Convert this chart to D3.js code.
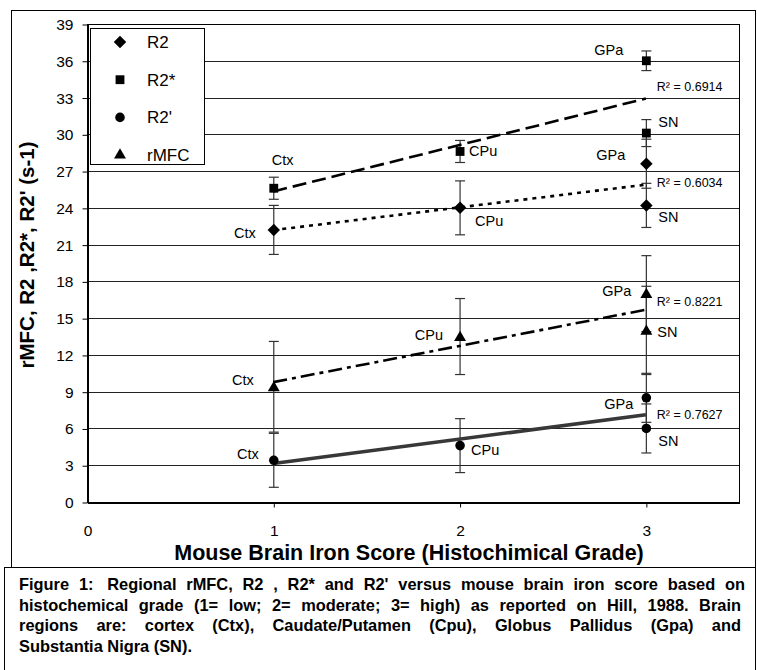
<!DOCTYPE html>
<html>
<head>
<meta charset="utf-8">
<script src="https://cdn.jsdelivr.net/npm/d3@7"></script>
<style>
  body { margin: 0; background: #fff; }
  svg { display: block; font-family: "Liberation Sans", Arial, sans-serif; }
</style>
</head>
<body>
<script>
// data
const regions = ["Ctx", "CPu", "GPa", "SN"];
const ironScore = [1, 2, 3, 3];

const r2 = [22.2, 24.0, 27.6, 24.2];
const r2Err = [2.0, 2.2, 2.0, 1.8];
const r2star = [25.6, 28.6, 36.0, 30.1];
const r2starErr = [0.9, 0.9, 0.8, 1.1];
const r2prime = [3.4, 4.6, 8.5, 6.0];
const r2primeErr = [2.2, 2.2, 2.0, 2.0];
const rmfc = [9.4, 13.5, 17.0, 14.0];
const rmfcErr = [3.7, 3.1, 3.1, 3.6];

const seriesNames = ["R2", "R2*", "R2'", "rMFC"];
const rSquared = ["0.6034", "0.6914", "0.7627", "0.8221"];

const yTicks = [0, 3, 6, 9, 12, 15, 18, 21, 24, 27, 30, 33, 36, 39];
const xTicks = [0, 1, 2, 3];

const captionLines = [
  "Figure 1:  Regional rMFC, R2 , R2* and R2' versus mouse brain iron score based on",
  "histochemical grade (1= low; 2= moderate; 3= high) as reported on Hill, 1988. Brain",
  "regions are: cortex (Ctx), Caudate/Putamen (Cpu), Globus Pallidus (Gpa) and",
  "Substantia Nigra (SN)."
];

const width = 757, height = 670;
const margin = { left: 87, right: 739, top: 24, bottom: 502 };

const svg = d3.select("body").append("svg")
  .attr("width", width)
  .attr("height", height);

// frames
svg.append("rect").attr("x", 11.5).attr("y", 10.5).attr("width", 744).attr("height", 557)
  .attr("fill", "none").attr("stroke", "#000");
svg.append("rect").attr("x", 4.5).attr("y", 567.5).attr("width", 751).attr("height", 110)
  .attr("fill", "#fff").attr("stroke", "#000");

const x = d3.scaleLinear().domain([0, 3.5]).range([margin.left, margin.right]);
const y = d3.scaleLinear().domain([0, 39]).range([margin.bottom, margin.top]);

// gridlines
svg.append("g")
  .selectAll("line")
  .data(yTicks.filter(t => t > 0 && t < 39))
  .enter()
  .append("line")
  .attr("x1", margin.left).attr("x2", margin.right)
  .attr("y1", d => Math.round(y(d)) + 0.5).attr("y2", d => Math.round(y(d)) + 0.5)
  .attr("stroke", "#222").attr("stroke-width", 1);

// plot border
svg.append("rect")
  .attr("x", margin.left + 0.5).attr("y", margin.top + 0.5)
  .attr("width", margin.right - margin.left).attr("height", margin.bottom - margin.top)
  .attr("fill", "none").attr("stroke", "#000");

// axes
const yAxis = svg.append("g")
  .attr("transform", "translate(" + (margin.left + 0.5) + ",0.5)")
  .call(d3.axisLeft(y).tickValues(yTicks).tickSize(5).tickPadding(9).tickSizeOuter(0));
const xAxis = svg.append("g")
  .attr("transform", "translate(0.5," + (margin.bottom + 0.5) + ")")
  .call(d3.axisBottom(x).tickValues(xTicks).tickFormat(d3.format("d"))
    .tickSize(5).tickPadding(17).tickSizeOuter(0));
[yAxis, xAxis].forEach(a => {
  a.select(".domain").attr("stroke", "#000").attr("stroke-width", 2);
  a.selectAll("text").attr("font-size", 15.5).attr("fill", "#000")
    .attr("font-family", "'Liberation Sans', Arial, sans-serif");
  a.selectAll(".tick line").attr("stroke", "#000");
});
xAxis.selectAll(".tick").filter(d => d === 0).select("line").remove();

// axis titles
svg.append("text")
  .attr("x", 409).attr("y", 560)
  .attr("text-anchor", "middle")
  .attr("font-size", 21.5).attr("font-weight", "bold")
  .text("Mouse Brain Iron Score (Histochimical Grade)");
svg.append("text")
  .attr("transform", "translate(34,255) rotate(-90)")
  .attr("text-anchor", "middle")
  .attr("font-size", 20.5).attr("font-weight", "bold")
  .text("rMFC, R2 ,R2*, R2' (s-1)");

// series definitions
const diamond = { draw: (ctx, size) => { const r = Math.sqrt(size / 2); ctx.moveTo(0, -r); ctx.lineTo(r, 0); ctx.lineTo(0, r); ctx.lineTo(-r, 0); ctx.closePath(); } };
const series = [
  { name: "R2", values: r2, err: r2Err, symbol: diamond, size: 78, dash: "4,5", stroke: "#000", width: 2.6, r2: rSquared[0] },
  { name: "R2*", values: r2star, err: r2starErr, symbol: d3.symbolSquare, size: 78, dash: "14,6", stroke: "#000", width: 2.6, r2: rSquared[1] },
  { name: "R2'", values: r2prime, err: r2primeErr, symbol: d3.symbolCircle, size: 72, dash: null, stroke: "#383838", width: 3.6, r2: rSquared[2] },
  { name: "rMFC", values: rmfc, err: rmfcErr, symbol: d3.symbolTriangle, size: 62, dash: "14,5,4,5", stroke: "#000", width: 2.6, r2: rSquared[3] }
];

// least squares trendline, as the spreadsheet did
const fit = vals => {
  const mx = d3.mean(ironScore), my = d3.mean(vals);
  let sxy = 0, sxx = 0;
  ironScore.forEach((xv, i) => { sxy += (xv - mx) * (vals[i] - my); sxx += (xv - mx) * (xv - mx); });
  const slope = sxy / sxx;
  return xv => my + slope * (xv - mx);
};

// label offsets (px) per series and region: [dx, dy, anchor]
const labelPos = {
  "R2": [[-18, 8, "end"], [15, 18, "start"], [-21, -4, "end"], [12, 17, "start"]],
  "R2*": [[-2, -23, "start"], [9, 5, "start"], [-23, -6, "end"], [12, -6, "start"]],
  "R2'": [[-15, -1, "end"], [11, 9, "start"], [-13, 11, "end"], [12, 18, "start"]],
  "rMFC": [[-20, -2, "end"], [-17, 3, "end"], [-15, 2, "end"], [11, 7, "start"]]
};
const r2LabelDy = { "R2": 2, "R2*": -8, "R2'": 4, "rMFC": -4 };

// error bars
series.forEach(s => {
  const g = svg.append("g");
  s.values.forEach((v, i) => {
    const cx = x(ironScore[i]) + 0.5;
    g.append("line").attr("x1", cx).attr("x2", cx)
      .attr("y1", y(v + s.err[i])).attr("y2", y(v - s.err[i]))
      .attr("stroke", "#333").attr("stroke-width", 1.2);
    [v + s.err[i], v - s.err[i]].forEach(e => {
      g.append("line").attr("x1", cx - 5).attr("x2", cx + 5)
        .attr("y1", y(e)).attr("y2", y(e))
        .attr("stroke", "#333").attr("stroke-width", 1.2);
    });
  });
});

// trendlines
series.forEach(s => {
  const f = fit(s.values);
  const line = svg.append("line")
    .attr("x1", x(1)).attr("y1", y(f(1)))
    .attr("x2", x(3)).attr("y2", y(f(3)))
    .attr("stroke", s.stroke).attr("stroke-width", s.width);
  if (s.dash) line.attr("stroke-dasharray", s.dash);
  svg.append("text")
    .attr("x", x(3) + 11).attr("y", y(f(3)) + r2LabelDy[s.name])
    .attr("font-size", 12.5)
    .text("R\u00B2 = " + s.r2);
});

// markers and region labels
series.forEach(s => {
  const sym = d3.symbol().type(s.symbol).size(s.size);
  s.values.forEach((v, i) => {
    const px = x(ironScore[i]) + 0.5, py = y(v);
    svg.append("path")
      .attr("d", sym)
      .attr("transform", "translate(" + px + "," + py + ")" + (s.name === "rMFC" ? " translate(0,1)" : ""))
      .attr("fill", "#000");
    const lp = labelPos[s.name][i];
    svg.append("text")
      .attr("x", px + lp[0]).attr("y", py + lp[1])
      .attr("text-anchor", lp[2])
      .attr("font-size", 14.5)
      .text(regions[i]);
  });
});

// legend
const legend = svg.append("g");
legend.append("rect").attr("x", 90.5).attr("y", 28.5).attr("width", 114).attr("height", 136)
  .attr("fill", "#fff").attr("stroke", "#000");
series.forEach((s, i) => {
  const ly = 42 + i * 37.7;
  legend.append("path")
    .attr("d", d3.symbol().type(s.symbol).size(s.size))
    .attr("transform", "translate(120," + ly + ")")
    .attr("fill", "#000");
  legend.append("text")
    .attr("x", 147).attr("y", ly + 6)
    .attr("font-size", 17)
    .text(s.name);
});

// caption, justified line by line
const capX0 = 19, capX1 = 741;
captionLines.forEach((ln, li) => {
  const words = ln.split(" ").filter(w => w !== "");
  const yy = 590 + li * 20.5;
  const g = svg.append("g");
  const nodes = words.map(w => g.append("text")
    .attr("y", yy).attr("font-size", 16.4).attr("font-weight", "bold")
    .text(w));
  const widths = nodes.map(n => n.node().getComputedTextLength());
  const total = d3.sum(widths);
  const last = li === captionLines.length - 1;
  const gap = last ? 4.5 : (capX1 - capX0 - total) / (words.length - 1);
  let cx = capX0;
  nodes.forEach((n, k) => {
    n.attr("x", cx);
    cx += widths[k] + gap + (k === 1 && li === 0 ? 4 : 0);
  });
});
</script>
</body>
</html>
